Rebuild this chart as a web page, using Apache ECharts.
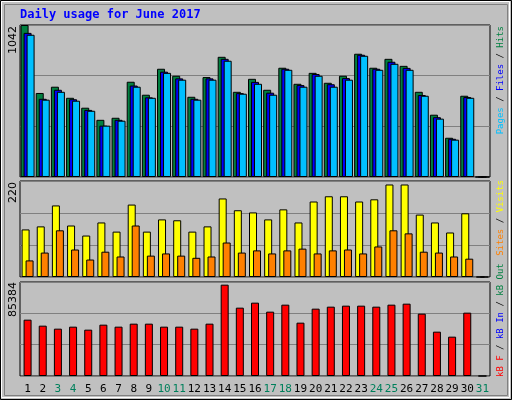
<!DOCTYPE html>
<html><head><meta charset="utf-8">
<script src="https://cdn.jsdelivr.net/npm/echarts@6/dist/echarts.min.js"></script>
<style>html,body{margin:0;padding:0;background:#c0c0c0}#c{width:512px;height:400px}</style>
</head><body><div id="c"></div>
<script>
// values
const days = []
for (let i = 1; i <= 31; i++) days.push(String(i))
const weekend = ['3', '4', '10', '11', '17', '18', '24', '25', '31']
const hits = [1042, 576, 619, 543, 475, 392, 406, 653, 564, 742, 694, 550, 685, 824, 584, 673, 598, 749, 639, 714, 646, 694, 845, 749, 810, 762, 584, 427, 269, 557, 0]
const files = [988, 536, 598, 533, 460, 352, 392, 627, 546, 722, 676, 536, 676, 810, 575, 652, 578, 742, 630, 706, 636, 678, 838, 742, 790, 748, 562, 410, 262, 548, 0]
const pages = [975, 530, 584, 523, 454, 352, 386, 619, 543, 714, 667, 530, 667, 797, 571, 639, 564, 735, 619, 694, 619, 667, 831, 735, 776, 735, 557, 400, 256, 543, 0]
const visits = [109, 116, 164, 118, 95, 125, 104, 166, 104, 132, 130, 104, 116, 180, 153, 148, 132, 155, 125, 173, 185, 185, 173, 178, 212, 212, 143, 125, 102, 146, 0]
const sites = [38, 56, 107, 63, 40, 58, 47, 118, 49, 54, 49, 44, 47, 79, 56, 61, 54, 61, 65, 54, 61, 63, 54, 70, 107, 100, 58, 56, 47, 42, 0]
const kbytes = [51173, 45723, 43000, 44815, 42089, 46631, 44815, 47540, 47540, 44815, 44815, 43000, 47540, 82968, 62074, 66616, 58441, 64800, 48448, 61166, 62983, 63891, 63891, 62983, 64800, 65708, 56625, 40273, 35730, 57533, 0]
const maxHits = 1042, maxVisits = 220, maxKb = 85384

const chart = echarts.init(document.getElementById('c'))
const font = 'DejaVu Sans Mono'
const grids = [
    { left: 20, right: 22, top: 25, height: 152 },
    { left: 20, right: 22, top: 181, height: 96 },
    { left: 20, right: 22, top: 282, height: 94 }
].map(g => Object.assign(g, { show: true, borderColor: '#000', borderWidth: 1, backgroundColor: '#c0c0c0' }))

const xAxis = [0, 1, 2].map(i => ({
    type: 'category', gridIndex: i, data: days,
    axisLine: { show: false }, axisTick: { show: false },
    axisLabel: i < 2 ? { show: false } : {
        fontFamily: font, fontSize: 11, margin: 8, interval: 0,
        color: (v) => weekend.includes(v) ? '#00805c' : '#000'
    }
}))
const yAxis = [maxHits, maxVisits, maxKb].map((m, i) => ({
    type: 'value', gridIndex: i, min: 0, max: m, interval: m / 3,
    axisLabel: { show: false }, axisLine: { show: false }, axisTick: { show: false },
    splitLine: { lineStyle: { color: '#808080', width: 1 } }
}))
const bar = (name, data, color, g, extra) => Object.assign({
    type: 'bar', name, data, xAxisIndex: g, yAxisIndex: g, barWidth: 8,
    itemStyle: { color, borderColor: '#000', borderWidth: 1 }, silent: true, animation: false
}, extra || {})

// rotated legend text on the right, anchored at its top end or bottom start
const sideText = (y, parts, align) => ({
    type: 'text', x: 505, y, rotation: Math.PI / 2,
    style: {
        text: parts.map(p => '{' + p[1] + '|' + p[0] + '}').join(''),
        rich: Object.fromEntries(parts.map(p => [p[1], { fill: p[2], fontFamily: font, fontSize: 9 }])),
        align, verticalAlign: 'bottom'
    }
})
const leftText = (y, t) => ({
    type: 'text', x: 8, y, rotation: Math.PI / 2,
    style: { text: t, fontFamily: 'DejaVu Sans', fontSize: 11, fill: '#000', align: 'right', verticalAlign: 'top' }
})

chart.setOption({
    backgroundColor: '#c0c0c0',
    animation: false,
    grid: grids, xAxis, yAxis,
    series: [
        bar('Hits', hits, '#008040', 0, { barGap: '-62.5%' }),
        bar('Files', files, '#0000ff', 0, { barGap: '-62.5%' }),
        bar('Pages', pages, '#00c0ff', 0, { barGap: '-62.5%' }),
        bar('Visits', visits, '#ffff00', 1, { barGap: '-50%' }),
        bar('Sites', sites, '#ff8000', 1, { barGap: '-50%' }),
        bar('kB F', kbytes, '#ff0000', 2)
    ],
    graphic: [
        { type: 'rect', shape: { x: 0.5, y: 0.5, width: 511, height: 399 }, style: { fill: 'none', stroke: '#000', lineWidth: 1 } },
        { type: 'rect', shape: { x: 1.5, y: 1.5, width: 508, height: 396 }, style: { fill: 'none', stroke: '#fff', lineWidth: 1 } },
        { type: 'rect', shape: { x: 4.5, y: 4.5, width: 503, height: 391 }, style: { fill: 'none', stroke: '#808080', lineWidth: 1 } },
        { type: 'text', x: 20, y: 9, style: { text: 'Daily usage for June 2017', fontFamily: font, fontWeight: 'bold', fontSize: 12, fill: '#0000ff' } },
        leftText(26, String(maxHits)),
        leftText(182, String(maxVisits)),
        leftText(282, String(maxKb)),
        sideText(26, [['Pages', 'p', '#00c0ff'], [' / ', 's', '#000'], ['Files', 'f', '#0000ff'], [' / ', 's', '#000'], ['Hits', 'h', '#008040']], 'right'),
        sideText(180, [['Sites', 'si', '#ff8000'], [' / ', 's', '#000'], ['Visits', 'v', '#ffff00']], 'right'),
        sideText(377, [['kB F', 'k', '#ff0000'], [' / ', 's', '#000'], ['kB In', 'i', '#0000ff'], [' / ', 's', '#000'], ['kB Out', 'o', '#008040']], 'left')
    ]
})
</script></body></html>
